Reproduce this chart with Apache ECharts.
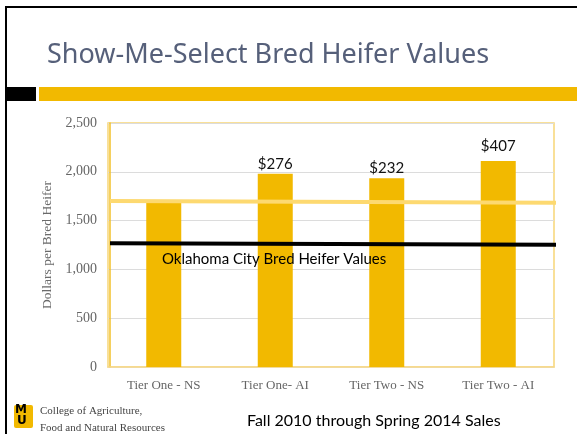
<!DOCTYPE html>
<html>
<head>
<meta charset="utf-8">
<script src="https://cdn.jsdelivr.net/npm/echarts@6/dist/echarts.min.js"></script>
<style>
  html, body { margin: 0; padding: 0; background: #fff; }
  #chart { width: 577px; height: 434px; }
</style>
</head>
<body>
<div id="chart"></div>
<script>
// 各等级 Show-Me-Select 母牛价格
const categories = ['Tier One - NS', 'Tier One- AI', 'Tier Two - NS', 'Tier Two - AI']
const heiferValues = [1700, 1979, 1935, 2110]
const premiumLabels = ['', '$276', '$232', '$407']
// 两条参考线（左端、右端）
const smsLine = [1701, 1683]
const okcLine = [1267, 1253]
const yTicks = [0, 500, 1000, 1500, 2000, 2500]

const gold = '#f2b900'
const chart = echarts.init(document.getElementById('chart'))

chart.setOption({
  animation: false,
  grid: {
    left: 108, right: 23, top: 123, bottom: 67,
    show: true, borderColor: '#f7d677', borderWidth: 1.5, backgroundColor: 'transparent',
  },
  xAxis: [
    {
      type: 'category',
      data: categories,
      axisLine: { lineStyle: { color: '#f7d98a', width: 1.5 } },
      axisTick: { show: false },
      axisLabel: { color: '#666', fontFamily: 'Liberation Serif', fontSize: 13, margin: 12 },
    },
    { type: 'value', min: -0.0044, max: 0.9845, show: false },
  ],
  yAxis: {
    type: 'value',
    min: yTicks[0],
    max: yTicks[yTicks.length - 1],
    interval: 500,
    name: 'Dollars per Bred Heifer',
    nameLocation: 'middle',
    nameGap: 41,
    nameTextStyle: { color: '#6a6a6a', fontFamily: 'Liberation Serif', fontSize: 13.5 },
    axisLine: { show: true, lineStyle: { color: '#f2c02a', width: 1.5 } },
    axisTick: { show: false },
    axisLabel: {
      color: '#666', fontFamily: 'Liberation Serif', fontSize: 14, margin: 11,
      formatter: (v) => v.toLocaleString('en-US'),
    },
    splitLine: { lineStyle: { color: '#dcdcdc' } },
  },
  series: [
    {
      type: 'bar',
      barWidth: 35,
      itemStyle: { color: gold },
      data: heiferValues.map((v, i) => ({
        value: v,
        label: { distance: i === 3 ? 7 : 2 },
      })),
      label: {
        show: true,
        position: 'top',
        color: '#111',
        fontFamily: 'Lato',
        fontSize: 15,
        formatter: (p) => premiumLabels[p.dataIndex],
      },
    },
    {
      type: 'line',
      xAxisIndex: 1,
      clip: false,
      symbol: 'none',
      lineStyle: { color: '#fdd970', width: 4 },
      data: [[0, smsLine[0]], [1, smsLine[1]]],
      z: 5,
    },
    {
      type: 'line',
      xAxisIndex: 1,
      clip: false,
      symbol: 'none',
      lineStyle: { color: '#000', width: 4 },
      data: [[0, okcLine[0]], [1, okcLine[1]]],
      z: 6,
    },
  ],
  graphic: [
    // 幻灯片边框
    { type: 'rect', shape: { x: 6, y: 7, width: 600, height: 440 }, style: { fill: 'none', stroke: '#000', lineWidth: 2 } },
    {
      type: 'text', left: 47, top: 42,
      style: { text: 'Show-Me-Select Bred Heifer Values', font: '27px "Noto Sans"', fill: '#56607a' },
    },
    { type: 'rect', shape: { x: 6, y: 87, width: 30, height: 14 }, style: { fill: '#000' } },
    { type: 'rect', shape: { x: 39, y: 87, width: 540, height: 14 }, style: { fill: gold } },
    {
      type: 'text', left: 162, top: 252, z: 10,
      style: { text: 'Oklahoma City Bred Heifer Values', font: '15px Lato', fill: '#000' },
    },
    // 徽标
    { type: 'rect', shape: { x: 14, y: 405, width: 19, height: 23, r: 2 }, style: { fill: gold } },
    { type: 'text', left: 15, top: 404, style: { text: 'M', font: 'bold 12px "DejaVu Sans"', fill: '#000' } },
    { type: 'text', left: 17, top: 415, style: { text: 'U', font: 'bold 12px "DejaVu Sans"', fill: '#000' } },
    {
      type: 'text', left: 40, top: 403,
      style: { text: 'College of Agriculture,\nFood and Natural Resources', font: '11px "Liberation Serif"', fill: '#444', lineHeight: 17 },
    },
    {
      type: 'text', left: 247, top: 413,
      style: { text: 'Fall 2010 through Spring 2014 Sales', font: '16px Lato', fill: '#000' },
    },
  ],
})
</script>
</body>
</html>
